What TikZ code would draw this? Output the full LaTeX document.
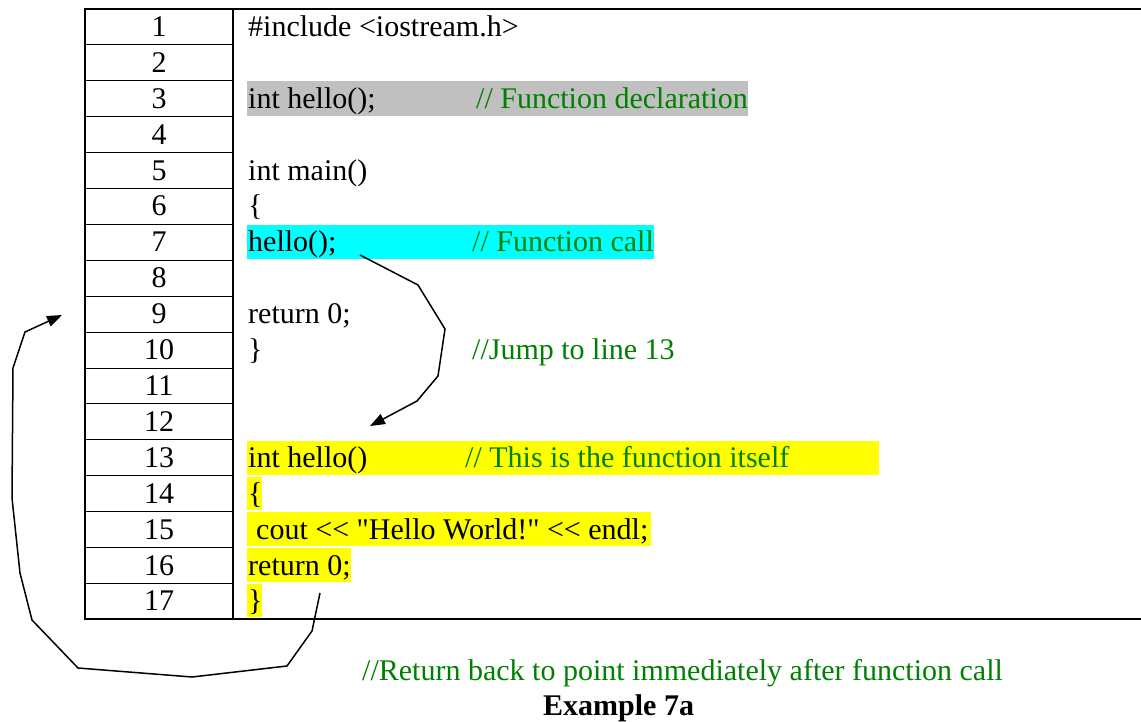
\documentclass[tikz,border=0pt]{standalone}
\usepackage{fontspec}
\setmainfont{Liberation Serif}[Ligatures=TeXOff]
\usetikzlibrary{arrows.meta}
\definecolor{cgreen}{RGB}{0,128,0}
\definecolor{hlgray}{RGB}{192,192,192}
\definecolor{hlcyan}{RGB}{0,255,255}
\definecolor{hlyellow}{RGB}{255,255,0}
\begin{document}
\begin{tikzpicture}[x=1pt,y=-1pt,
  code/.style={anchor=base west, inner sep=0pt, font=\fontsize{30}{36}\selectfont},
  num/.style={anchor=base, inner sep=0pt, font=\fontsize{30}{36}\selectfont},
  cmt/.style={code, text=cgreen},
  flow/.style={line width=1.5pt, -{Triangle[length=15pt,width=11pt]}, line join=miter},
  rowline/.style={line width=1pt},
  frame/.style={line width=2pt}
]
\useasboundingbox (0,0) rectangle (1141,722);
% highlights
\fill[hlgray]   (247,81)  rectangle (748,116);
\fill[hlcyan]   (247,225) rectangle (654,259);
\fill[hlyellow] (247,441) rectangle (879,475);
\fill[hlyellow] (247,477) rectangle (262,510);
\fill[hlyellow] (247,512) rectangle (651,546);
\fill[hlyellow] (247,548) rectangle (351,582);
\fill[hlyellow] (247,584) rectangle (262,617);
% grid
\foreach \k in {1,...,16} {
  \draw[rowline] (85,{9+35.9*\k}) -- (233,{9+35.9*\k});
}
\draw[frame] (1141,9) -- (85,9) -- (85,619) -- (1141,619);
\draw[line width=1.6pt] (233,9) -- (233,619);
% numbers
\foreach \i in {1,...,17} {
  \node[num] (n\i) at (159,{9+35.9*(\i-1)+27.5}) {\i};
}
% code
\node[code] (c1)  at (248,{9+35.9*0+27.5})  {\#include <iostream.h>};
\node[code] (c3)  at (248,{9+35.9*2+27.5})  {int hello();};
\node[cmt]  (m3)  at (476,{9+35.9*2+27.5})  {// Function declaration};
\node[code] (c5)  at (248,{9+35.9*4+27.5})  {int main()};
\node[code] (c6)  at (248,{9+35.9*5+27.5})  {\{};
\node[code] (c7)  at (248,{9+35.9*6+27.5})  {hello();};
\node[cmt]  (m7)  at (472,{9+35.9*6+27.5})  {// Function call};
\node[code] (c9)  at (248,{9+35.9*8+27.5})  {return 0;};
\node[code] (c10) at (248,{9+35.9*9+27.5})  {\}};
\node[cmt]  (m10) at (472,{9+35.9*9+27.5})  {//Jump to line 13};
\node[code] (c13) at (248,{9+35.9*12+27.5}) {int hello()};
\node[cmt]  (m13) at (465,{9+35.9*12+27.5}) {// This is the function itself};
\node[code] (c14) at (248,{9+35.9*13+27.5}) {\{};
\node[code] (c15) at (256,{9+35.9*14+27.5}) {cout <{}< "Hello World!" <{}< endl;};
\node[code] (c16) at (248,{9+35.9*15+27.5}) {return 0;};
\node[code] (c17) at (248,{9+35.9*16+27.5}) {\}};
% bottom texts
\node[cmt] (ret) at (362,680) {//Return back to point immediately after function call};
\node[code, font=\fontsize{30}{36}\selectfont\bfseries] (cap) at (543,715) {Example 7a};
% arrows
\coordinate (callpt) at (360,255);
\coordinate (fnpt) at (370,426);
\draw[flow] (callpt) -- (418,285) -- (445,329) -- (438,376) -- (417,401) -- (fnpt);
\coordinate (retpt) at (320,593);
\coordinate (backpt) at (62,315);
\draw[flow] (retpt) -- (312,631) -- (287,666) -- (192,677) -- (78,668) -- (32,620) -- (20,573) -- (12,498) -- (13,368) -- (25,332) -- (backpt);
\end{tikzpicture}
\end{document}
